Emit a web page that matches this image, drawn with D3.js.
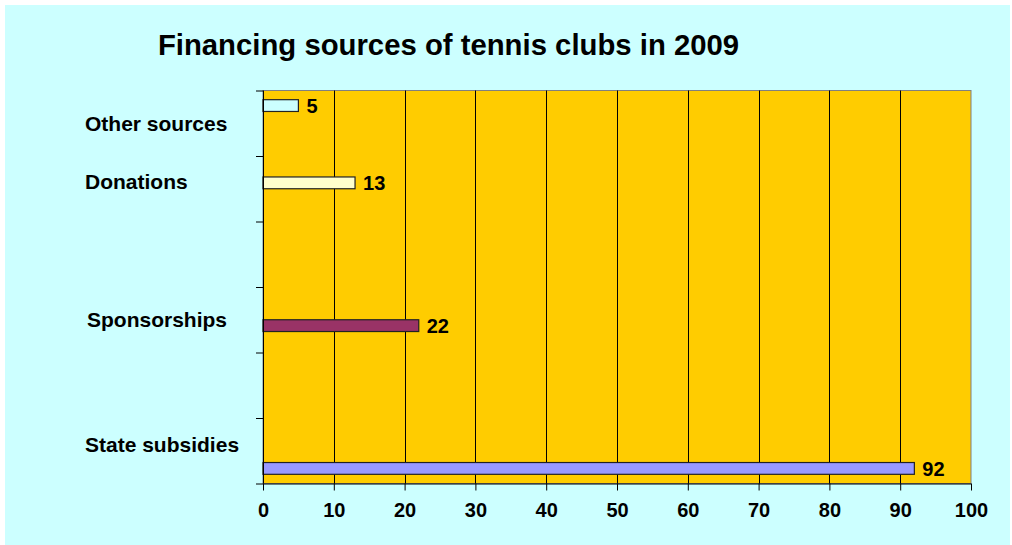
<!DOCTYPE html>
<html>
<head>
<meta charset="utf-8">
<script src="https://cdn.jsdelivr.net/npm/d3@7"></script>
<style>
  html, body { margin: 0; padding: 0; background: #ffffff; }
  svg { display: block; }
  text { font-family: "Liberation Sans", Arial, sans-serif; font-weight: bold; fill: #000; }
</style>
</head>
<body>
<script>
// ---- data ----
const title = "Financing sources of tennis clubs in 2009";
// category slots from top to bottom (two empty slots as in the original)
const categories = ["Other sources", "Donations", "", "Sponsorships", "", "State subsidies"];
const seriesNames = ["Other sources", "Donations", "Sponsorships", "State subsidies"];
const seriesValues = [5, 13, 22, 92];
const seriesColors = ["#CCFFFF", "#FFFFCC", "#993366", "#9999FF"];
const xTicks = [0, 10, 20, 30, 40, 50, 60, 70, 80, 90, 100];
// category label text boxes (as placed in the original) : offset within slot, in slot units
const labelNames = ["Other sources", "Donations", "Sponsorships", "State subsidies"];
const labelSlotPos = [0.50, 0.39, 0.49, 0.40];
const labelX = [85, 85, 87, 85];

// ---- layout ----
const W = 1012, H = 545;
const plot = { left: 263, right: 971, top: 90.5, bottom: 483.5 };

const svg = d3.select("body").append("svg").attr("width", W).attr("height", H);

svg.append("rect").attr("x", 5).attr("y", 5).attr("width", 1005).attr("height", 540)
  .attr("fill", "#CCFFFF");

const x = d3.scaleLinear().domain([0, 100]).range([plot.left, plot.right]);
const y = d3.scaleBand().domain(d3.range(categories.length)).range([plot.top, plot.bottom]).paddingInner(0).paddingOuter(0);
const ySeries = d3.scaleBand().domain(d3.range(seriesNames.length)).range([0, y.bandwidth()]).paddingInner(0).paddingOuter(0.78);

// plot area
svg.append("rect").attr("x", plot.left).attr("y", plot.top)
  .attr("width", plot.right - plot.left).attr("height", plot.bottom - plot.top)
  .attr("fill", "#FFCC00").attr("stroke", "#808080").attr("stroke-width", 1);

// gridlines
svg.append("g").selectAll("line").data(xTicks.slice(1, -1)).join("line")
  .attr("x1", d => Math.round(x(d)) + 0.5).attr("x2", d => Math.round(x(d)) + 0.5)
  .attr("y1", plot.top).attr("y2", plot.bottom)
  .attr("stroke", "#000").attr("stroke-width", 1);

// bars
const bars = seriesNames.map((s, i) => ({
  name: s, value: seriesValues[i], color: seriesColors[i],
  slot: categories.indexOf(s), idx: i
}));
svg.append("g").selectAll("rect").data(bars).join("rect")
  .attr("x", x(0))
  .attr("y", d => y(d.slot) + ySeries(d.idx))
  .attr("width", d => x(d.value) - x(0))
  .attr("height", ySeries.bandwidth())
  .attr("fill", d => d.color)
  .attr("stroke", "#222").attr("stroke-width", 1.2);

// value labels
svg.append("g").selectAll("text").data(bars).join("text")
  .attr("x", d => x(d.value) + 8)
  .attr("y", d => y(d.slot) + ySeries(d.idx) + ySeries.bandwidth() / 2)
  .attr("dy", "0.36em")
  .style("font-size", "20px")
  .text(d => d.value);

// x axis
const xAxis = d3.axisBottom(x).tickValues(xTicks).tickSize(7).tickPadding(12).tickFormat(d3.format("d"));
const gx = svg.append("g").attr("transform", `translate(0,${plot.bottom})`).call(xAxis);
gx.select(".domain").attr("stroke", "#000").attr("d", `M${plot.left},0.5H${plot.right}`);
gx.selectAll(".tick line").attr("stroke", "#000");
gx.selectAll(".tick text").style("font-size", "20px").style("font-family", "'Liberation Sans', Arial, sans-serif").style("font-weight", "bold").attr("fill", "#000");

// y axis (ticks at slot boundaries, no labels)
const yBounds = d3.range(categories.length + 1).map(i => plot.top + i * y.step());
const yLin = d3.scaleLinear().domain([plot.top, plot.bottom]).range([plot.top, plot.bottom]);
const yAxis = d3.axisLeft(yLin).tickValues(yBounds).tickSize(7).tickFormat("");
const gy = svg.append("g").attr("transform", `translate(${plot.left},0)`).call(yAxis);
gy.select(".domain").attr("stroke", "#000").attr("d", `M0.5,${plot.top}V${plot.bottom}`);
gy.selectAll(".tick line").attr("stroke", "#000");

// category labels
svg.append("g").selectAll("text").data(labelNames).join("text")
  .attr("x", (d, i) => labelX[i])
  .attr("y", (d, i) => y(categories.indexOf(d)) + labelSlotPos[i] * y.step())
  .attr("dy", "0.36em")
  .style("font-size", "21px")
  .text(d => d);

// title
svg.append("text").attr("x", 448.5).attr("y", 44).attr("dy", "0.36em")
  .attr("text-anchor", "middle").style("font-size", "29.3px").text(title);
</script>
</body>
</html>
